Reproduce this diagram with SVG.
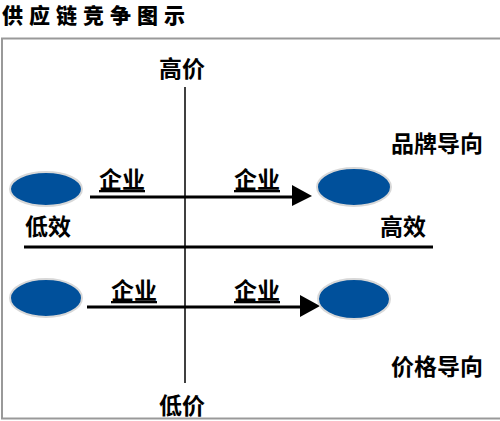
<svg xmlns="http://www.w3.org/2000/svg" width="500" height="421" viewBox="0 0 500 421">
<style>
.t{font-family:"Noto Sans CJK SC","Noto Sans CJK JP",sans-serif;font-weight:bold;font-size:23px;fill:#000}
.u{text-decoration:underline}
.node{fill:#00509b;stroke:#d8d8d8;stroke-width:2}
.ax{stroke:#000;stroke-width:1.5;fill:none}
.ar{stroke:#000;stroke-width:3;fill:none}
</style>
<rect width="500" height="421" fill="#fff"/>
<text x="2" y="23" class="t" style="font-size:21px;font-weight:900;letter-spacing:6px">供应链竞争图示</text>
<rect x="2" y="38.5" width="510" height="380" fill="none" stroke="#999" stroke-width="2"/>
<g id="connectors">
<line class="ax" x1="185" y1="87" x2="185" y2="383"/>
<line x1="24" y1="247" x2="433" y2="247" stroke="#000" stroke-width="3"/>
<line class="ar" x1="90" y1="197" x2="296" y2="197"/>
<polygon points="292,185 312,196 292,206" fill="#000"/>
<line class="ar" x1="87" y1="307" x2="304" y2="307"/>
<polygon points="300,295 320,306 300,317" fill="#000"/>
</g>
<g id="n-ul"><ellipse class="node" cx="46" cy="189" rx="36" ry="17"/></g>
<g id="n-ur"><ellipse class="node" cx="354" cy="187" rx="37" ry="19"/></g>
<g id="n-ll"><ellipse class="node" cx="46" cy="298" rx="36" ry="19"/></g>
<g id="n-lr"><ellipse class="node" cx="354" cy="299" rx="36" ry="20"/></g>
<g id="labels">
<text x="182" y="77" class="t" text-anchor="middle">高价</text>
<text x="182" y="414" class="t" text-anchor="middle">低价</text>
<text x="437" y="152" class="t" text-anchor="middle">品牌导向</text>
<text x="437" y="375" class="t" text-anchor="middle">价格导向</text>
<text x="48" y="235" class="t" text-anchor="middle">低效</text>
<text x="403" y="235" class="t" text-anchor="middle">高效</text>
<text x="122" y="188" class="t u" text-anchor="middle">企业</text>
<text x="257" y="188" class="t u" text-anchor="middle">企业</text>
<text x="134" y="299" class="t u" text-anchor="middle">企业</text>
<text x="257" y="299" class="t u" text-anchor="middle">企业</text>
</g>
</svg>
